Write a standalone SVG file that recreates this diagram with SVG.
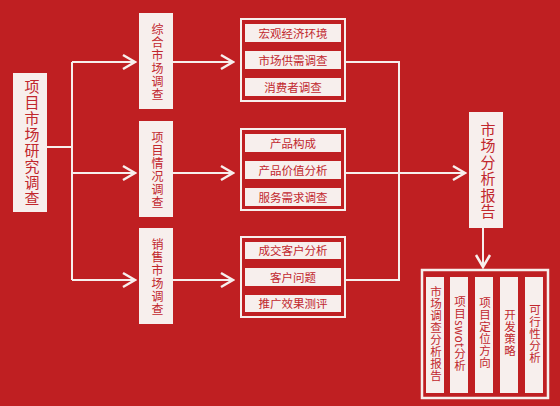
<svg xmlns="http://www.w3.org/2000/svg" width="560" height="406" viewBox="0 0 560 406">
<style>
.box{fill:#F7EFED;stroke:none}
.frame{fill:none;stroke:#F7EFED;stroke-width:2}
.t{font-family:"Noto Sans CJK SC","Noto Sans",sans-serif;fill:#C1272D;font-size:11.5px;text-anchor:middle}
.v{writing-mode:vertical-rl;text-anchor:middle}
.ln{fill:none;stroke:#F7EFED;stroke-width:2}
</style>
<defs>
<marker id="ar" markerUnits="userSpaceOnUse" markerWidth="16" markerHeight="18" viewBox="-2 -2 16 18" refX="12" refY="7" orient="auto">
<path d="M0,0 L12,7 L0,14" fill="none" stroke="#F7EFED" stroke-width="2.5"/>
</marker>
</defs>
<rect width="560" height="406" fill="#BF1F22"/>
<g id="connectors">
<path class="ln" d="M47,147 H72"/>
<path class="ln" d="M72,62 V280"/>
<path class="ln" d="M72,62 H135" marker-end="url(#ar)"/>
<path class="ln" d="M72,173 H135" marker-end="url(#ar)"/>
<path class="ln" d="M72,280 H135" marker-end="url(#ar)"/>
<path class="ln" d="M173,62 H233" marker-end="url(#ar)"/>
<path class="ln" d="M173,173 H233" marker-end="url(#ar)"/>
<path class="ln" d="M173,280 H233" marker-end="url(#ar)"/>
<path class="ln" d="M345,62 H399 V280 H345"/>
<path class="ln" d="M345,173 H465" marker-end="url(#ar)"/>
<path class="ln" d="M483,228 V267" marker-end="url(#ar)"/>
</g>
<g id="root">
<rect class="box" x="13" y="73" width="34" height="139"/>
<text class="t v" x="32" y="143" style="font-size:15px;letter-spacing:1px">项目市场研究调查</text>
</g>
<g id="mid1">
<rect class="box" x="139" y="13" width="34" height="96"/>
<text class="t v" x="157.5" y="62" style="font-size:12px;letter-spacing:1px">综合市场调查</text>
</g>
<g id="mid2">
<rect class="box" x="139" y="121" width="34" height="96"/>
<text class="t v" x="157.5" y="170" style="font-size:12px;letter-spacing:1px">项目情况调查</text>
</g>
<g id="mid3">
<rect class="box" x="139" y="228" width="34" height="96"/>
<text class="t v" x="157.5" y="277" style="font-size:12px;letter-spacing:1px">销售市场调查</text>
</g>
<g id="group1">
<rect class="frame" x="241" y="19" width="104" height="82"/>
<rect class="box" x="245" y="24" width="96" height="18"/>
<rect class="box" x="245" y="51" width="96" height="18"/>
<rect class="box" x="245" y="78" width="96" height="18"/>
<text class="t" x="293" y="37.5">宏观经济环境</text>
<text class="t" x="293" y="64.5">市场供需调查</text>
<text class="t" x="293" y="91.5">消费者调查</text>
</g>
<g id="group2">
<rect class="frame" x="241" y="129" width="104" height="81"/>
<rect class="box" x="245" y="134" width="96" height="18"/>
<rect class="box" x="245" y="161" width="96" height="18"/>
<rect class="box" x="245" y="188" width="96" height="18"/>
<text class="t" x="293" y="147.5">产品构成</text>
<text class="t" x="293" y="174.5">产品价值分析</text>
<text class="t" x="293" y="201.5">服务需求调查</text>
</g>
<g id="group3">
<rect class="frame" x="241" y="237" width="104" height="80"/>
<rect class="box" x="245" y="242" width="96" height="17"/>
<rect class="box" x="245" y="268" width="96" height="18"/>
<rect class="box" x="245" y="295" width="96" height="17"/>
<text class="t" x="293" y="255">成交客户分析</text>
<text class="t" x="293" y="281.5">客户问题</text>
<text class="t" x="293" y="308">推广效果测评</text>
</g>
<g id="report">
<rect class="box" x="469" y="112" width="34" height="116"/>
<text class="t v" x="488" y="171" style="font-size:15px;letter-spacing:1.5px">市场分析报告</text>
</g>
<g id="outputs">
<rect class="frame" x="422" y="270" width="126" height="128" style="stroke-width:2.5"/>
<rect class="box" x="426" y="277" width="18" height="116"/>
<rect class="box" x="450" y="277" width="18" height="116"/>
<rect class="box" x="475" y="277" width="18" height="116"/>
<rect class="box" x="500" y="277" width="18" height="116"/>
<rect class="box" x="525" y="277" width="18" height="116"/>
<text class="t v" x="436" y="334" style="font-size:11.5px;letter-spacing:0.5px">市场调查分析报告</text>
<text class="t v" x="460" y="334" style="font-size:11.5px;letter-spacing:0.5px">项目swot分析</text>
<text class="t v" x="485" y="333" style="font-size:11.5px;letter-spacing:0.5px">项目定位方向</text>
<text class="t v" x="510" y="333" style="font-size:11.5px;letter-spacing:0.5px">开发策略</text>
<text class="t v" x="535" y="334" style="font-size:11.5px;letter-spacing:0.5px">可行性分析</text>
</g>
</svg>
